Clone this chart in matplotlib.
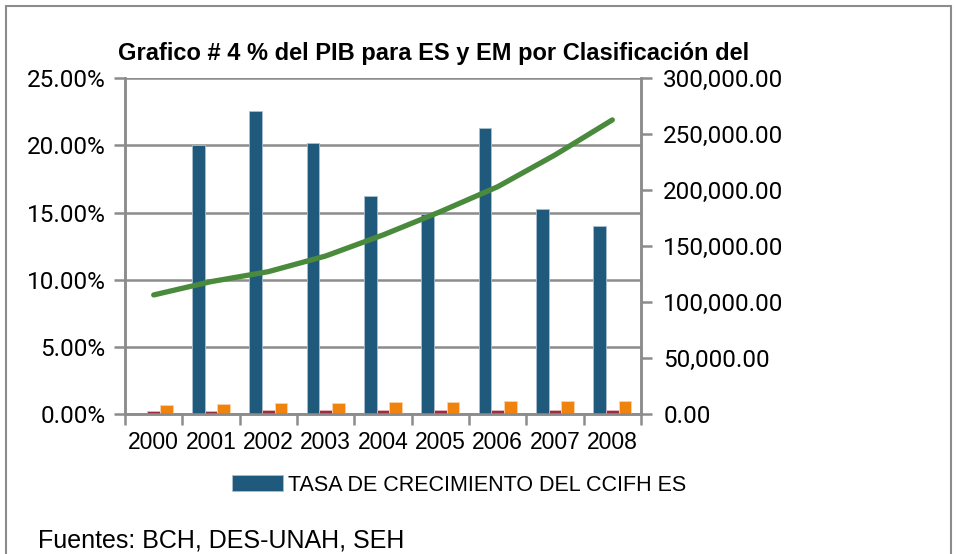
import matplotlib
matplotlib.use('Agg')
import matplotlib.pyplot as plt
from matplotlib import font_manager
from matplotlib.patches import Rectangle
from matplotlib.ticker import FuncFormatter, FixedLocator
import numpy as np

years = ['2000', '2001', '2002', '2003', '2004', '2005', '2006', '2007', '2008']
tasa_ccifh_es = [0.0, 20.0, 22.6, 20.2, 16.2, 14.9, 21.3, 15.25, 14.0]   # % (eje izq.)
serie_roja = [0.22, 0.22, 0.28, 0.28, 0.28, 0.28, 0.32, 0.32, 0.32]      # % (eje izq.)
serie_naranja = [0.67, 0.72, 0.80, 0.84, 0.87, 0.87, 0.99, 0.99, 0.99]  # % (eje izq.)
serie_verde = [106400, 118300, 127200, 141200, 160000, 180800, 203100, 231500, 262800]  # eje der.

left_ticks = [0, 5, 10, 15, 20, 25]
right_ticks = [0, 50000, 100000, 150000, 200000, 250000, 300000]

names = {f.name for f in font_manager.fontManager.ttflist}
narrow = 'Liberation Sans Narrow' if 'Liberation Sans Narrow' in names else 'Liberation Sans'
regular = 'Roboto' if 'Roboto' in names else 'Liberation Sans'

GRAY = '#8c8c8c'
BLUE = '#1f5a7d'
RED = '#9b2d3f'
ORANGE = '#f0820e'
GREEN = '#4a8a3c'

fig = plt.figure(figsize=(9.56, 5.54), dpi=100)
ax = fig.add_axes([0.1308, 0.2527, 0.5397, 0.606])
ax2 = ax.twinx()

x = np.arange(len(years))
w = 0.22
ax.bar(x - w, tasa_ccifh_es, w, color=BLUE, edgecolor='#a9bfd0', linewidth=0.6,
       label='TASA DE CRECIMIENTO DEL CCIFH ES', zorder=3)
ax.bar(x, serie_roja, w, color=RED, edgecolor='#e5b5bd', linewidth=0.6, zorder=3)
ax.bar(x + w, serie_naranja, w, color=ORANGE, edgecolor='#fbd3a8', linewidth=0.6, zorder=3)

ax2.plot(x, serie_verde, color=GREEN, linewidth=3.8, solid_capstyle='round',
         solid_joinstyle='round', zorder=4)

ax.set_xlim(-0.5, len(years) - 0.5)
ax.set_ylim(0, 25)
ax2.set_ylim(0, 300000)

ax.set_yticks(left_ticks)
ax.yaxis.set_major_formatter(FuncFormatter(lambda v, p: f'{v:.2f}%'))
ax2.set_yticks(right_ticks)
ax2.yaxis.set_major_formatter(FuncFormatter(lambda v, p: f'{v:,.2f}'))

ax.set_xticks(x)
ax.set_xticklabels(years, fontfamily=narrow, fontsize=16.5)
ax.xaxis.set_minor_locator(FixedLocator(np.arange(-0.5, len(years), 1.0)))
ax.tick_params(axis='x', which='major', length=0, pad=12)
ax.tick_params(axis='x', which='minor', length=8, width=1.8, color=GRAY, direction='out')

ax.tick_params(axis='y', length=8, width=1.8, color=GRAY, labelsize=17.5, pad=6)
ax2.tick_params(axis='y', length=8, width=1.8, color=GRAY, labelsize=17.5, pad=8)
for lab in ax.get_yticklabels() + ax2.get_yticklabels():
    lab.set_fontfamily(regular)

ax.grid(axis='y', color=GRAY, linewidth=1.8, zorder=0)
ax.set_axisbelow(True)
for a in (ax, ax2):
    a.spines['top'].set_visible(False)
    for s in ('left', 'right', 'bottom'):
        a.spines[s].set_color(GRAY)
        a.spines[s].set_linewidth(1.8)

fig.text(0.453, 0.904, 'Grafico # 4 % del PIB para ES y EM por Clasificación del',
         ha='center', va='center', fontsize=17, fontweight='bold', fontfamily=narrow)

leg = ax.legend(loc='center', bbox_to_anchor=(0.48, 0.1245), bbox_transform=fig.transFigure,
                frameon=False, prop={'family': narrow, 'size': 15.5},
                handlelength=2.4, handleheight=0.7, handletextpad=0.2)

fig.text(0.04, 0.025, 'Fuentes: BCH, DES-UNAH, SEH', ha='left', va='center',
         fontsize=18, fontfamily=narrow)

fig.patches.append(Rectangle((0.006, -0.05), 0.989, 1.04, transform=fig.transFigure,
                             fill=False, edgecolor=GRAY, linewidth=1.5))

fig.savefig('out.png', dpi=100)
